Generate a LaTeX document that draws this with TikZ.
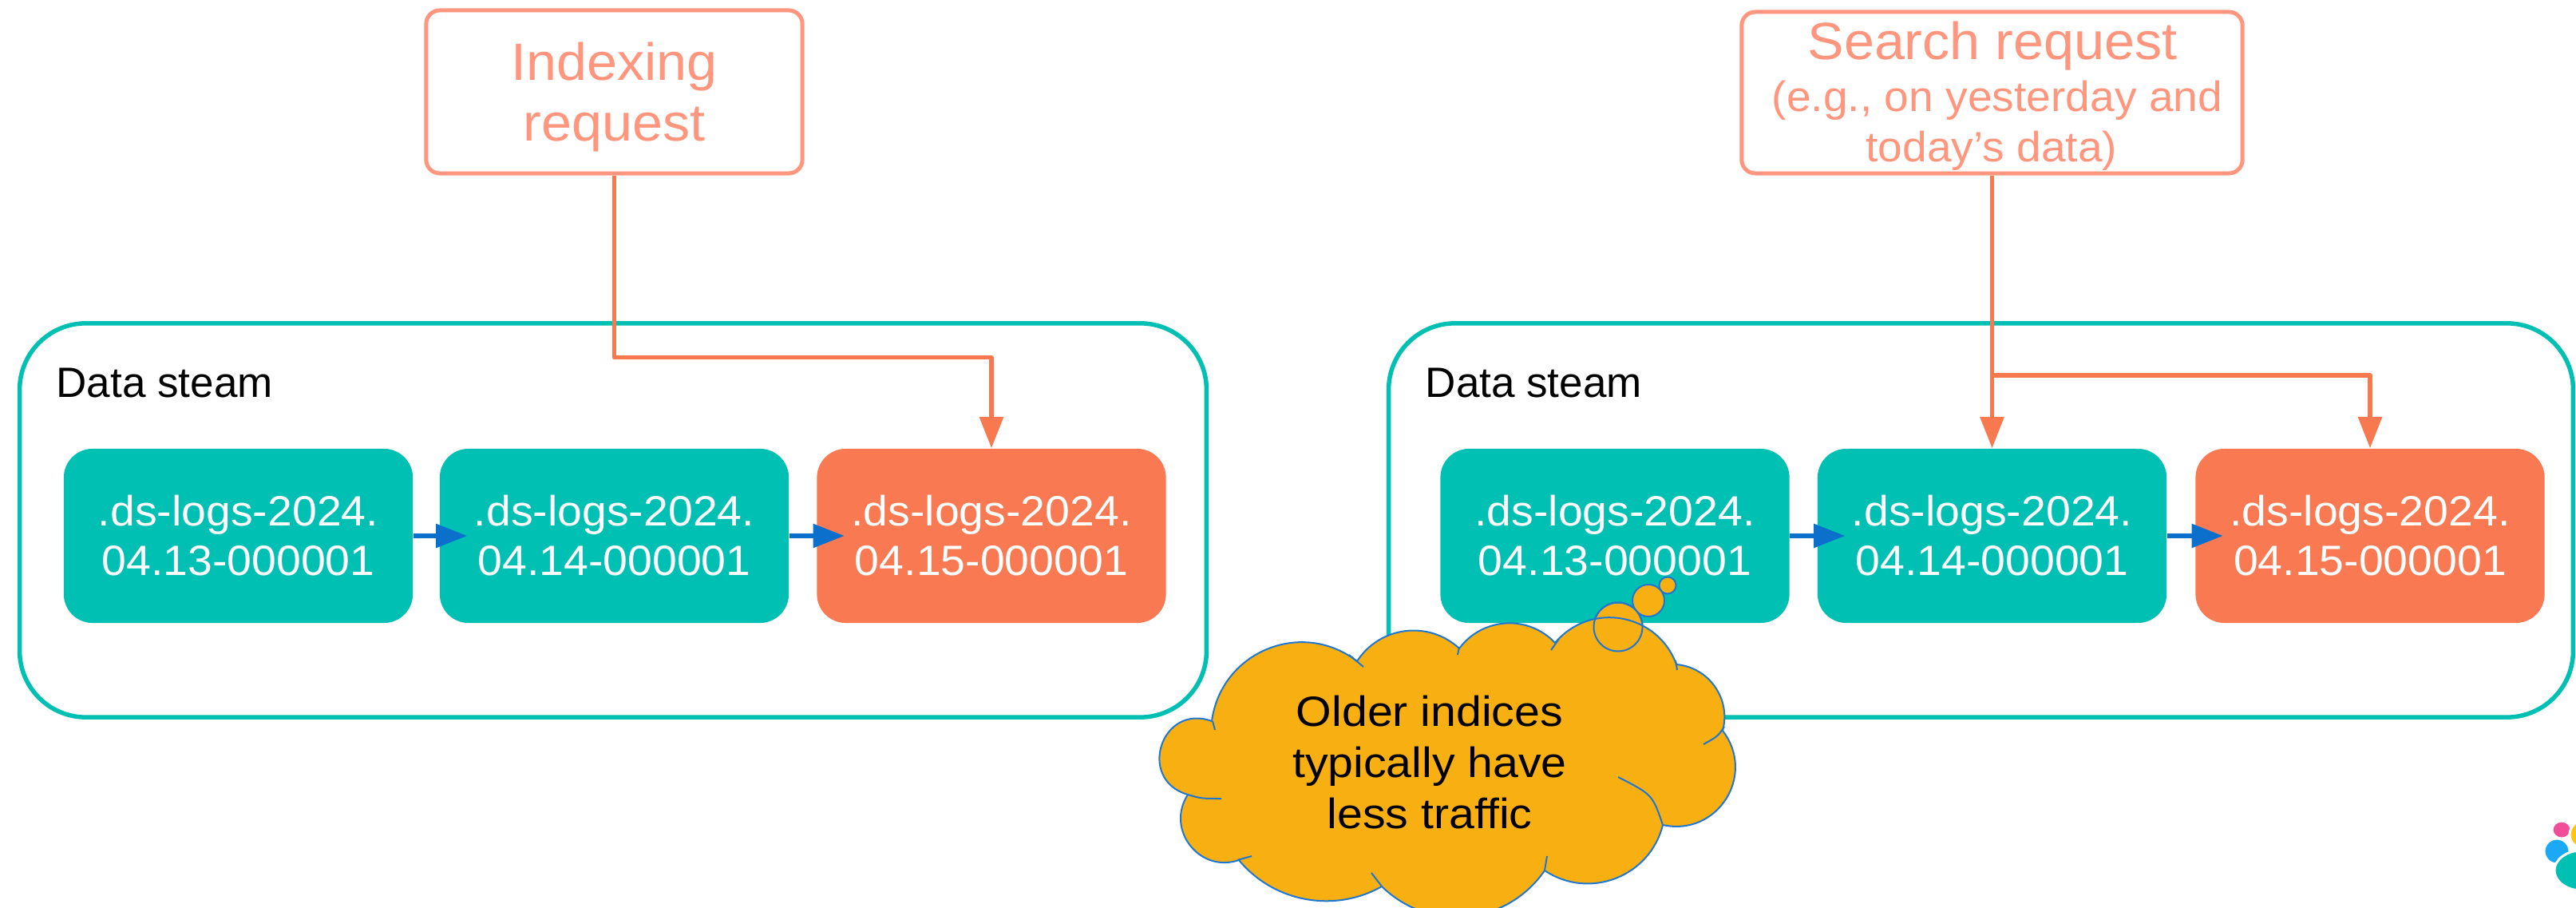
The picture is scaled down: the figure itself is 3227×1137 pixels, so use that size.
\documentclass[tikz,border=0pt]{standalone}
\usepackage{fontspec}
\setmainfont{Liberation Sans}
\newfontfamily\idxfamily{Liberation Sans}[FakeStretch=1.045]
\newfontfamily\reqfamily{Liberation Sans}[FakeStretch=1.04]
\newfontfamily\cloudfamily{Liberation Sans}[FakeStretch=1.08]
\usetikzlibrary{arrows.meta}

\definecolor{esteal}{HTML}{00BFB3}
\definecolor{esorange}{HTML}{F97952}
\definecolor{essalmon}{HTML}{FF967D}
\definecolor{eslink}{HTML}{F87850}
\definecolor{esblue}{HTML}{0B70CC}
\definecolor{esamber}{HTML}{F8AF11}
\definecolor{cloudline}{HTML}{1F77D0}
\definecolor{logopink}{HTML}{F04E98}
\definecolor{logoyellow}{HTML}{FEC514}
\definecolor{logoblue}{HTML}{1BA9F5}

\begin{document}
\begin{tikzpicture}[x=0.01cm,y=-0.01cm,
  container/.style={draw=esteal, line width=0.055cm, rounded corners=0.83cm,
    minimum height=4.93cm, inner sep=0pt},
  idxbox/.style={rounded corners=0.36cm, minimum width=4.37cm, minimum height=2.18cm,
    inner sep=0pt, text=white, align=center,
    font=\idxfamily\fontsize{15.08}{17.64}\selectfont},
  idxold/.style={idxbox, fill=esteal},
  idxnew/.style={idxbox, fill=esorange},
  reqbox/.style={draw=essalmon, line width=0.05cm, rounded corners=0.17cm, inner sep=0pt},
  reqtxt/.style={text=essalmon, inner sep=0pt, anchor=base, font=\reqfamily\fontsize{18.67}{21.6}\selectfont},
  reqsub/.style={text=essalmon, inner sep=0pt, anchor=base, font=\reqfamily\fontsize{15.08}{18}\selectfont},
  dslabel/.style={inner sep=0pt, anchor=base west, font=\fontsize{15.08}{18}\selectfont},
  rollover/.style={draw=esblue, line width=0.055cm, -{Triangle[length=0.39cm,width=0.29cm]}},
  request/.style={draw=eslink, line width=0.055cm, line join=round,
    -{Triangle[length=0.39cm,width=0.29cm]}},
  bubble/.style={circle, fill=esamber, draw=cloudline, line width=0.02cm, inner sep=0pt},
  bubbleline/.style={circle, draw=cloudline, line width=0.02cm, inner sep=0pt},
  cloudedge/.style={fill=esamber, draw=cloudline, line width=0.02cm, line join=round},
  cloudstub/.style={draw=cloudline, line width=0.02cm}]

\useasboundingbox (0,0) rectangle (3227,1137);
\fill[white] (0,0) rectangle (3227,1137);

% data stream frames
\node[container, minimum width=14.86cm] (dsL) at (768,651.5) {};
\node[container, minimum width=14.83cm] (dsR) at (2481.5,651.5) {};
\node[dslabel] (dsLlabel) at (70,498) {Data steam};
\node[dslabel] (dsRlabel) at (1785,498) {Data steam};

% backing indices, left stream
\node[idxold] (b1L) at (298.5,671) {.ds-logs-2024.\\04.13-000001};
\node[idxold] (b2L) at (769.5,671) {.ds-logs-2024.\\04.14-000001};
\node[idxnew] (b3L) at (1242,671) {.ds-logs-2024.\\04.15-000001};

% backing indices, right stream
\node[idxold] (b1R) at (2023,671) {.ds-logs-2024.\\04.13-000001};
\node[idxold] (b2R) at (2495.5,671) {.ds-logs-2024.\\04.14-000001};
\node[idxnew] (b3R) at (2969,671) {.ds-logs-2024.\\04.15-000001};

% rollover order
\draw[rollover] (b1L.east) -- ([xshift=0.35cm]b2L.west);
\draw[rollover] (b2L.east) -- ([xshift=0.35cm]b3L.west);
\draw[rollover] (b1R.east) -- ([xshift=0.35cm]b2R.west);
\draw[rollover] (b2R.east) -- ([xshift=0.35cm]b3R.west);

% requests
\node[reqbox, minimum width=4.71cm, minimum height=2.04cm] (idx) at (769.5,115) {};
\node[reqtxt] (idxT1) at (769.5,101) {Indexing};
\node[reqtxt] (idxT2) at (769.5,177) {request};

\node[reqbox, minimum width=6.27cm, minimum height=2.02cm] (search) at (2495.5,116) {};
\node[reqtxt] (searchT1) at (2496,75) {Search request};
\node[reqsub] (searchT2) at (2502,140) {(e.g., on yesterday and};
\node[reqsub] (searchT3) at (2495,203) {today’s data)};

\draw[request] (idx.south) -- ++(0,228) -| (b3L.north);
\coordinate (forkY) at (0,470);
\coordinate (fork) at (search.south |- forkY);
\draw[request] (search.south) -- (b2R.north);
\draw[request] (fork) -| (b3R.north);

% thought cloud
\node[bubble, minimum size=0.21cm] (tb3) at (2089,733) {};
\node[bubble, minimum size=0.40cm] (tb2) at (2065,752) {};
\node[bubble, minimum size=0.61cm] (tb1) at (2027,785) {};
\begin{scope}
  \clip (0,0) rectangle (3227,1137);
  \path[cloudedge]
    (1488,995)  to[bend left=92, looseness=1.78] (1518,903)
                to[bend left=60, looseness=1.14] (1700,828)
                to[bend left=50, looseness=1.04] (1828,812)
                to[bend left=50, looseness=1.04] (1948,805)
                to[bend left=60, looseness=1.14] (2100,832)
                to[bend left=50, looseness=1.04] (2158,915)
                to[bend left=70, looseness=1.28] (2083,1033)
                to[bend left=55, looseness=1.08] (1935,1090)
                to[bend left=50, looseness=1.04] (1731,1110)
                to[bend left=40, looseness=0.96] (1552,1077)
                to[bend left=71, looseness=1.28] (1488,995) -- cycle;
  % inner ends of the puff arcs
  \draw[cloudstub] (1519,903) -- (1522,914);
  \draw[cloudstub] (1690,820) -- (1708,835);
  \draw[cloudstub] (1828,810) -- (1826,820);
  \draw[cloudstub] (1953,800) -- (1943,814);
  \draw[cloudstub] (2099,827) -- (2101,839);
  \draw[cloudstub] (2160,910) .. controls (2152,922) .. (2134,932);
  \draw[cloudstub] (2027,973) .. controls (2070,995) .. (2083,1033);
  \draw[cloudstub] (1935,1090) -- (1938,1072);
  \draw[cloudstub] (1731,1110) -- (1718,1093);
  \draw[cloudstub] (1550,1077) -- (1568,1072);
  \draw[cloudstub] (1488,995) .. controls (1505,1000) .. (1530,1000);
\end{scope}
\node[bubbleline, minimum size=0.61cm] (tb1edge) at (tb1) {};
\node[inner sep=0pt, align=center, font=\cloudfamily\fontsize{15.08}{18.07}\selectfont]
  (notetext) at (1791,954.5) {Older indices\\typically have\\less traffic};

% logo in the corner
\begin{scope}
  \clip (0,0) rectangle (3227,1137);
  \fill[white] (3222,1072) ellipse [x radius=0.44cm, y radius=0.5cm];
  \filldraw[fill=logopink, draw=white, line width=0.03cm] (3209,1039) ellipse [x radius=0.12cm, y radius=0.11cm];
  \filldraw[fill=logoyellow, draw=white, line width=0.03cm] (3240,1045) ellipse [x radius=0.21cm, y radius=0.19cm];
  \filldraw[fill=logoblue, draw=white, line width=0.03cm] (3203,1066) ellipse [x radius=0.16cm, y radius=0.16cm];
  \filldraw[fill=esteal, draw=white, line width=0.03cm] (3234,1090) ellipse [x radius=0.34cm, y radius=0.25cm];
\end{scope}
\end{tikzpicture}
\end{document}
